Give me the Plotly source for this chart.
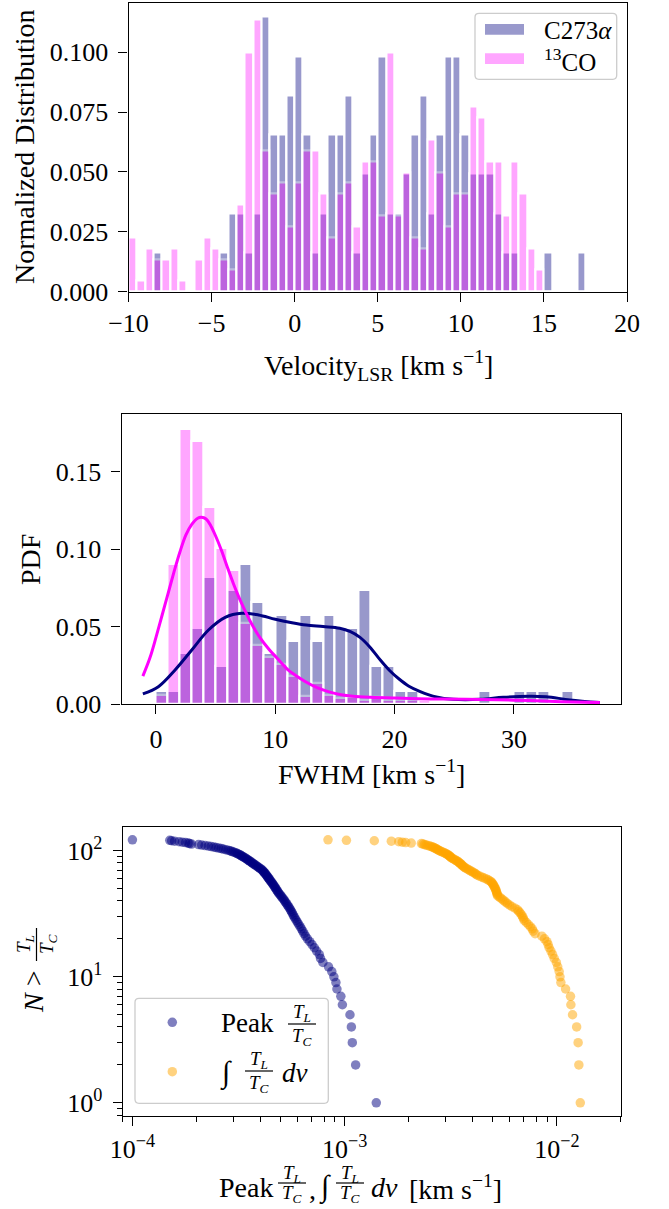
import numpy as np
import plotly.graph_objects as go

W, H = 669, 1209
FONT = "Liberation Serif"

# ---------------- Panel 1: velocity histograms ----------------
vel_bin_start = -10.0
vel_bin_width = 0.5
rrl_vel_counts = [0, 0, 0, 1, 0, 0, 0, 0, 0, 0, 0, 1, 2, 2, 1, 2, 7, 4, 4, 5,
                  6, 4, 1, 2, 4, 4, 5, 1, 3, 4, 6, 2, 2, 3, 4, 5, 2, 4, 6, 6,
                  4, 3, 3, 3, 2, 1, 1, 0, 0, 0, 1, 0, 0, 0, 1]
co_vel_density = [0.0227, 0.0045, 0.0182, 0.0136, 0.0136, 0.0182, 0.0045, 0.0, 0.0136, 0.0227,
                  0.0182, 0.0136, 0.0091, 0.0363, 0.0999, 0.1135, 0.0590, 0.0409, 0.0454, 0.0272,
                  0.0454, 0.0590, 0.0590, 0.0409, 0.0227, 0.0409, 0.0454, 0.0272, 0.0545, 0.0545,
                  0.0318, 0.0999, 0.0318, 0.0499, 0.0227, 0.0182, 0.0636, 0.0499, 0.0272, 0.0409,
                  0.0409, 0.0772, 0.0726, 0.0545, 0.0545, 0.0318, 0.0545, 0.0409, 0.0182, 0.0091,
                  0.0, 0.0, 0.0, 0.0, 0.0]

# ---------------- Panel 2: FWHM histograms + KDE ----------------
fwhm_bin_start = 0.0
fwhm_bin_width = 1.0
rrl_fwhm_counts = [1, 1, 4, 6, 10, 3, 9, 11, 8, 4, 7, 5, 7, 5, 7, 6, 6, 9, 3, 3,
                   1, 1, 0, 0, 0, 0, 0, 1, 0, 0, 1, 1, 1, 0, 1]
co_fwhm_density = [0.0057, 0.0904, 0.1776, 0.1696, 0.1270, 0.1007, 0.0865, 0.0523, 0.0383, 0.0301,
                   0.0258, 0.0178, 0.0049, 0.0135, 0.0058, 0.0036, 0.0045, 0.0023, 0.0045, 0.0023,
                   0.0023, 0.0023, 0.0023, 0.0, 0.0, 0.0, 0.0, 0.0, 0.0, 0.0,
                   0.0, 0.0, 0.0, 0.0, 0.0]
rrl_kde_x = [-1.1, 0.2, 1.6, 3.0, 4.4, 5.8, 7.2, 8.6, 10.0, 11.4, 12.6, 14.0, 15.4, 16.3, 17.1,
             17.9, 18.8, 19.6, 20.4, 21.2, 22.1, 23.5, 24.9, 27.2, 29.1, 31.3, 32.7, 34.7, 37.2]
rrl_kde_y = [0.0065, 0.0112, 0.0220, 0.0349, 0.0478, 0.0560, 0.0586, 0.0575, 0.0547, 0.0525,
             0.0510, 0.0500, 0.0489, 0.0467, 0.0430, 0.0370, 0.0284, 0.0215, 0.0160, 0.0115,
             0.0082, 0.0045, 0.0030, 0.0030, 0.0043, 0.0050, 0.0047, 0.0026, 0.0009]
co_kde_x = [-1.1, -0.5, 0.0, 0.5, 1.0, 1.5, 2.0, 2.5, 3.0, 3.5, 3.8, 4.2, 4.6, 5.0, 5.5, 6.0, 6.5,
            7.0, 7.6, 8.0, 8.7, 9.5, 10.1, 11.0, 11.5, 12.5, 13.5, 14.5, 15.5, 16.5, 18.0, 20.0,
            23.0, 26.0, 30.0, 34.0, 37.2]
co_kde_y = [0.0180, 0.0300, 0.0430, 0.0570, 0.0710, 0.0850, 0.0980, 0.1090, 0.1160, 0.1200,
            0.1206, 0.1195, 0.1150, 0.1085, 0.0990, 0.0880, 0.0775, 0.0680, 0.0580, 0.0520,
            0.0430, 0.0350, 0.0300, 0.0225, 0.0195, 0.0145, 0.0105, 0.0078, 0.0060, 0.0050,
            0.0043, 0.0038, 0.0033, 0.0030, 0.0025, 0.0015, 0.0009]

# ---------------- Panel 3: cumulative counts ----------------
peak_ratio = [
    1.00e-4, 1.50e-4, 1.53e-4, 1.58e-4, 1.66e-4, 1.72e-4, 1.78e-4, 1.83e-4, 1.86e-4, 1.90e-4,
    2.05e-4, 2.12e-4, 2.20e-4, 2.28e-4, 2.35e-4, 2.42e-4, 2.48e-4, 2.55e-4, 2.62e-4, 2.68e-4,
    2.75e-4, 2.82e-4, 2.88e-4, 2.93e-4, 2.98e-4, 3.03e-4, 3.08e-4, 3.12e-4, 3.16e-4, 3.20e-4,
    3.24e-4, 3.27e-4, 3.30e-4, 3.34e-4, 3.38e-4, 3.42e-4, 3.46e-4, 3.49e-4, 3.52e-4, 3.56e-4,
    3.60e-4, 3.64e-4, 3.67e-4, 3.71e-4, 3.75e-4, 3.79e-4, 3.84e-4, 3.88e-4, 3.92e-4, 3.96e-4,
    4.01e-4, 4.05e-4, 4.10e-4, 4.13e-4, 4.16e-4, 4.19e-4, 4.22e-4, 4.25e-4, 4.28e-4, 4.31e-4,
    4.34e-4, 4.37e-4, 4.40e-4, 4.43e-4, 4.46e-4, 4.50e-4, 4.53e-4, 4.57e-4, 4.60e-4, 4.64e-4,
    4.67e-4, 4.71e-4, 4.74e-4, 4.78e-4, 4.82e-4, 4.86e-4, 4.90e-4, 4.95e-4, 5.00e-4, 5.05e-4,
    5.11e-4, 5.17e-4, 5.22e-4, 5.27e-4, 5.33e-4, 5.38e-4, 5.44e-4, 5.50e-4, 5.56e-4, 5.61e-4,
    5.67e-4, 5.72e-4, 5.78e-4, 5.85e-4, 5.92e-4, 6.00e-4, 6.08e-4, 6.17e-4, 6.26e-4, 6.35e-4,
    6.44e-4, 6.55e-4, 6.68e-4, 6.85e-4, 7.02e-4, 7.20e-4, 7.38e-4, 7.60e-4, 7.70e-4, 7.90e-4,
    8.40e-4, 8.70e-4, 8.90e-4, 9.10e-4, 9.20e-4, 9.60e-4, 9.76e-4, 1.060e-3, 1.076e-3, 1.087e-3,
    1.127e-3, 1.41e-3]
int_ratio = [
    8.35e-4, 1.02e-3, 1.38e-3, 1.66e-3, 1.80e-3, 1.87e-3, 1.94e-3, 2.06e-3, 2.30e-3, 2.34e-3,
    2.38e-3, 2.42e-3, 2.47e-3, 2.52e-3, 2.56e-3, 2.60e-3, 2.63e-3, 2.66e-3, 2.69e-3, 2.72e-3,
    2.74e-3, 2.77e-3, 2.80e-3, 2.84e-3, 2.88e-3, 2.92e-3, 2.96e-3, 3.00e-3, 3.03e-3, 3.06e-3,
    3.09e-3, 3.12e-3, 3.14e-3, 3.16e-3, 3.18e-3, 3.22e-3, 3.26e-3, 3.30e-3, 3.34e-3, 3.38e-3,
    3.42e-3, 3.45e-3, 3.48e-3, 3.51e-3, 3.54e-3, 3.57e-3, 3.60e-3, 3.63e-3, 3.66e-3, 3.71e-3,
    3.76e-3, 3.82e-3, 3.88e-3, 3.94e-3, 4.00e-3, 4.06e-3, 4.12e-3, 4.17e-3, 4.22e-3, 4.32e-3,
    4.42e-3, 4.52e-3, 4.62e-3, 4.72e-3, 4.80e-3, 4.89e-3, 4.93e-3, 4.97e-3, 5.01e-3, 5.04e-3,
    5.07e-3, 5.10e-3, 5.13e-3, 5.16e-3, 5.18e-3, 5.20e-3, 5.22e-3, 5.24e-3, 5.25e-3, 5.35e-3,
    5.45e-3, 5.55e-3, 5.65e-3, 5.76e-3, 5.86e-3, 6.00e-3, 6.15e-3, 6.35e-3, 6.53e-3, 6.62e-3,
    6.72e-3, 6.82e-3, 6.90e-3, 6.96e-3, 7.02e-3, 7.18e-3, 7.34e-3, 7.50e-3, 7.66e-3, 7.74e-3,
    7.90e-3, 8.50e-3, 8.75e-3, 8.98e-3, 9.10e-3, 9.20e-3, 9.38e-3, 9.55e-3, 9.72e-3, 9.95e-3,
    1.010e-2, 1.026e-2, 1.035e-2, 1.045e-2, 1.100e-2, 1.160e-2, 1.165e-2, 1.186e-2, 1.240e-2, 1.260e-2,
    1.270e-2, 1.290e-2]

NAVY = "#000080"
MAGENTA = "#FF00FF"
ORANGE = "#FFA500"

TICK_SIZE = 26
TITLE_SIZE = 28
FRAC_SIZE = 19


def px(x):
    return x / W


def py(y):
    return 1 - y / H


fig = go.Figure()

# Panel 1 bars
c1 = vel_bin_start + vel_bin_width * (np.arange(len(rrl_vel_counts)) + 0.5)
rrl_vel_density = np.array(rrl_vel_counts) / (np.sum(rrl_vel_counts) * vel_bin_width)
fig.add_trace(go.Bar(x=c1, y=rrl_vel_density, width=vel_bin_width,
                     marker=dict(color=NAVY, line=dict(color="white", width=2.2)),
                     opacity=0.4, xaxis="x", yaxis="y", showlegend=False))
fig.add_trace(go.Bar(x=c1, y=co_vel_density, width=vel_bin_width,
                     marker=dict(color=MAGENTA, line=dict(color="white", width=2.2)),
                     opacity=0.35, xaxis="x", yaxis="y", showlegend=False))

# Panel 2 bars + KDE
c2 = fwhm_bin_start + fwhm_bin_width * (np.arange(len(rrl_fwhm_counts)) + 0.5)
rrl_fwhm_density = np.array(rrl_fwhm_counts) / (np.sum(rrl_fwhm_counts) * fwhm_bin_width)
fig.add_trace(go.Bar(x=c2, y=rrl_fwhm_density, width=fwhm_bin_width,
                     marker=dict(color=NAVY, line=dict(color="white", width=2.2)),
                     opacity=0.4, xaxis="x2", yaxis="y2", showlegend=False))
fig.add_trace(go.Bar(x=c2, y=co_fwhm_density, width=fwhm_bin_width,
                     marker=dict(color=MAGENTA, line=dict(color="white", width=2.2)),
                     opacity=0.35, xaxis="x2", yaxis="y2", showlegend=False))
fig.add_trace(go.Scatter(x=rrl_kde_x, y=rrl_kde_y, mode="lines",
                         line=dict(color=NAVY, width=3, shape="spline", smoothing=1.0),
                         xaxis="x2", yaxis="y2", showlegend=False))
fig.add_trace(go.Scatter(x=co_kde_x, y=co_kde_y, mode="lines",
                         line=dict(color=MAGENTA, width=3, shape="spline", smoothing=1.0),
                         xaxis="x2", yaxis="y2", showlegend=False))

# Panel 3 scatter: N(> value)
pk = np.sort(np.array(peak_ratio))
it = np.sort(np.array(int_ratio))
n_pk = np.array([np.sum(pk >= v) for v in pk])
n_it = np.array([np.sum(it >= v) for v in it])
fig.add_trace(go.Scatter(x=pk, y=n_pk, mode="markers",
                         marker=dict(color=NAVY, size=9.5, opacity=0.5, line=dict(width=0)),
                         xaxis="x3", yaxis="y3", showlegend=False))
fig.add_trace(go.Scatter(x=it, y=n_it, mode="markers",
                         marker=dict(color=ORANGE, size=9.5, opacity=0.5, line=dict(width=0)),
                         xaxis="x3", yaxis="y3", showlegend=False))

tickfont = dict(family=FONT, size=TICK_SIZE, color="black")
common = dict(showline=True, mirror=True, linecolor="black", linewidth=1.3,
              ticks="outside", ticklen=9, tickwidth=1.3, tickcolor="black",
              showgrid=False, zeroline=False, tickfont=tickfont, automargin=False)

sup = lambda e: "10<sup>" + e + "</sup>"

fig.update_layout(
    template="none",
    width=W, height=H, margin=dict(l=0, r=0, t=0, b=0, pad=0),
    paper_bgcolor="white", plot_bgcolor="white", barmode="overlay", bargap=0,
    showlegend=False,
    font=dict(family=FONT, size=TICK_SIZE, color="black"),
    xaxis=dict(domain=[px(128.5), px(627)], range=[-10, 20], anchor="y",
               tickvals=[-10, -5, 0, 5, 10, 15, 20], ticklabelstandoff=-1, **common),
    yaxis=dict(domain=[py(291.7), py(2.5)], range=[0, 0.1207], anchor="x",
               tickvals=[0, 0.025, 0.05, 0.075, 0.1], tickformat=".3f", ticklabelstandoff=5, **common),
    xaxis2=dict(domain=[px(121.5), px(620.7)], range=[-2.89, 38.95], anchor="y2",
                tickvals=[0, 10, 20, 30], ticklabelstandoff=3, **common),
    yaxis2=dict(domain=[py(704), py(414)], range=[0, 0.1873], anchor="x2",
                tickvals=[0, 0.05, 0.10, 0.15], tickformat=".2f", ticklabelstandoff=5, **common),
    xaxis3=dict(domain=[px(122.7), px(620.7)], type="log",
                range=[np.log10(9e-5), np.log10(2e-2)], anchor="y3",
                tickvals=[1e-4, 1e-3, 1e-2], ticktext=[sup("−4"), sup("−3"), sup("−2")],
                ticklabelstandoff=1,
                minor=dict(ticks="outside", ticklen=5, tickwidth=1.1, tickcolor="black",
                           tickvals=[9e-5] + [k * 1e-4 for k in range(2, 10)] +
                                    [k * 1e-3 for k in range(2, 10)] + [2e-2]),
                **common),
    yaxis3=dict(domain=[py(1116), py(826.7)], type="log", range=[-0.1043, 2.1907], anchor="x3",
                tickvals=[1, 10, 100], ticktext=[sup("0"), sup("1"), sup("2")],
                ticklabelstandoff=5,
                minor=dict(ticks="outside", ticklen=5, tickwidth=1.1, tickcolor="black",
                           tickvals=[0.8, 0.9] + list(range(2, 10)) + list(range(20, 100, 10))),
                **common),
)

ann = []
shapes = []


def text(x, y, s, size=TITLE_SIZE, xanchor="center", yanchor="middle", angle=0):
    ann.append(dict(x=px(x), y=py(y), xref="paper", yref="paper", text=s, showarrow=False,
                    xanchor=xanchor, yanchor=yanchor, textangle=angle, borderpad=0,
                    font=dict(family=FONT, size=size, color="black")))


def hline(x0, x1, y, w=1.2):
    shapes.append(dict(type="line", xref="paper", yref="paper", x0=px(x0), x1=px(x1),
                       y0=py(y), y1=py(y), line=dict(color="black", width=w)))


def vline(x, y0, y1, w=1.2):
    shapes.append(dict(type="line", xref="paper", yref="paper", x0=px(x), x1=px(x),
                       y0=py(y0), y1=py(y1), line=dict(color="black", width=w)))


def rbox(x0, y0, x1, y1, r=4):
    a, b = px(x0), px(x1)
    c, d = py(y0), py(y1)
    rx, ry = r / W, r / H
    path = (f"M {a+rx},{c} L {b-rx},{c} Q {b},{c} {b},{c-ry} L {b},{d+ry} Q {b},{d} {b-rx},{d} "
            f"L {a+rx},{d} Q {a},{d} {a},{d+ry} L {a},{c-ry} Q {a},{c} {a+rx},{c} Z")
    shapes.append(dict(type="path", xref="paper", yref="paper", path=path,
                       line=dict(color="#cccccc", width=1.3), fillcolor="rgba(255,255,255,0.8)"))


def rect(x0, y0, x1, y1, color):
    shapes.append(dict(type="rect", xref="paper", yref="paper", x0=px(x0), x1=px(x1),
                       y0=py(y1), y1=py(y0), line=dict(width=0), fillcolor=color))


def dot(x, y, color, d=9.5):
    shapes.append(dict(type="circle", xref="paper", yref="paper",
                       x0=px(x - d / 2), x1=px(x + d / 2), y0=py(y + d / 2), y1=py(y - d / 2),
                       line=dict(width=0), fillcolor=color))


def frac(cx, ybar, half=14, gap=10, size=FRAC_SIZE):
    text(cx, ybar - gap, "<i>T<sub>L</sub></i>", size=size)
    hline(cx - half, cx + half, ybar)
    text(cx, ybar + gap + 2, "<i>T<sub>C</sub></i>", size=size)


# Axis titles
text(378, 366, "Velocity<sub>LSR</sub> [km s<sup>−1</sup>]")
text(24, 147, "Normalized Distribution", angle=-90)
text(371, 772, "FWHM [km s<sup>−1</sup>]")
text(31, 560, "PDF", angle=-90)

# Panel 3 y title: N > TL/TC (rotated)
text(33, 992, "<i>N</i> >", angle=-90)
text(25, 944, "<i>T<sub>L</sub></i>", size=FRAC_SIZE, angle=-90)
vline(36.5, 928, 961)
text(48, 944, "<i>T<sub>C</sub></i>", size=FRAC_SIZE, angle=-90)

# Panel 3 x title: Peak TL/TC, ∫ TL/TC dv [km s^-1]
text(218, 1187, "Peak", xanchor="left")
frac(292, 1183, gap=9)
text(308, 1189, ",", xanchor="left")
text(325, 1187, "∫", size=30)
frac(350, 1183, gap=9)
text(370, 1187, "<i>dv</i>", xanchor="left")
text(408, 1187, "[km s<sup>−1</sup>]", xanchor="left")

# Legend panel 1
rbox(475, 13.3, 616.7, 79.3)
rect(485, 24, 524, 34.7, "rgba(0,0,128,0.4)")
rect(485, 53.3, 524, 64, "rgba(255,0,255,0.35)")
text(543, 30, "C273<i>α</i>", size=25, xanchor="left")
text(543, 60, "<sup>13</sup>CO", size=25, xanchor="left")

# Legend panel 3
rbox(135, 998.3, 328.3, 1103.3)
dot(172.3, 1022.3, "rgba(0,0,128,0.5)")
dot(172.3, 1071.7, "rgba(255,165,0,0.5)")
text(220, 1023, "Peak", size=27, xanchor="left")
frac(302, 1024, half=14, gap=11)
text(226, 1073, "∫", size=30)
frac(259, 1071, half=14, gap=11)
text(281, 1073, "<i>dv</i>", size=27, xanchor="left")

fig.update_layout(annotations=ann, shapes=shapes)
fig.write_html("out.html")
